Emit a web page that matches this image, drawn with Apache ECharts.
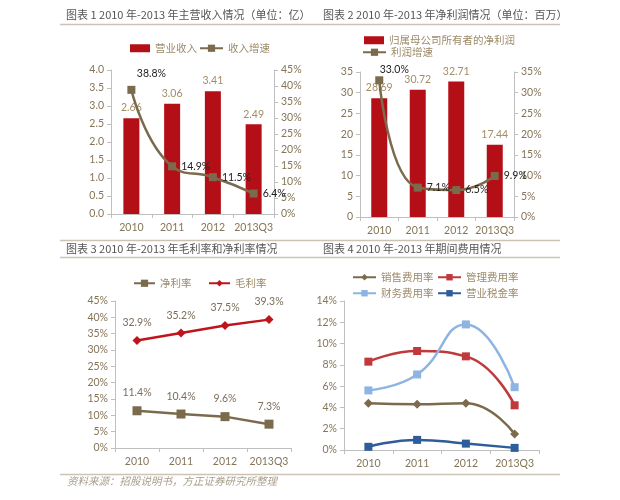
<!DOCTYPE html>
<html><head><meta charset="utf-8">
<script src="https://cdn.jsdelivr.net/npm/echarts@6/dist/echarts.min.js"></script>
<style>html,body{margin:0;padding:0;background:#fff}#c{width:620px;height:500px}</style>
</head><body><div id="c"></div>
<script>
var categories = ['2010', '2011', '2012', '2013Q3'];
// Chart 1
var revenue = [2.66, 3.06, 3.41, 2.49];
var revenueGrowth = [38.8, 14.9, 11.5, 6.4];
// Chart 2
var netProfit = [28.69, 30.72, 32.71, 17.44];
var profitGrowth = [33.0, 7.1, 6.5, 9.9];
// Chart 3
var netMargin = [11.4, 10.4, 9.6, 7.3];
var grossMargin = [32.9, 35.2, 37.5, 39.3];
// Chart 4
var salesExp = [4.4, 4.3, 4.4, 1.5];
var mgmtExp = [8.3, 9.3, 8.8, 4.2];
var finExp = [5.6, 7.1, 11.8, 5.9];
var taxRate = [0.3, 0.95, 0.6, 0.2];

var titles = [
  '图表 1 2010 年-2013 年主营收入情况（单位：亿）',
  '图表 2 2010 年-2013 年净利润情况（单位：百万）',
  '图表 3 2010 年-2013 年毛利率和净利率情况',
  '图表 4 2010 年-2013 年期间费用情况'
];
var sourceText = '资料来源：招股说明书，方正证券研究所整理';

var LBL = '#857558';
var AX = '#BFBFBF';
var BROWN = '#7B6B4C';
var RED = '#B40F17';
var FONT = 'Lato, "Noto Sans CJK SC", sans-serif';
var CJK = '"Noto Sans CJK SC", sans-serif';

function pctFmt(v) { return v + '%'; }
function xAx(g) {
  return {
    type: 'category', gridIndex: g, data: categories,
    axisLine: { lineStyle: { color: AX, width: 1 } },
    axisTick: { show: true, length: 4, lineStyle: { color: AX } },
    axisLabel: { color: LBL, fontSize: 10.5, fontFamily: FONT, margin: 8, interval: 0 }
  };
}
function yAx(g, min, max, interval, fmt, pos) {
  return {
    type: 'value', gridIndex: g, min: min, max: max, interval: interval, position: pos || 'left',
    splitLine: { show: false },
    axisLine: { show: true, lineStyle: { color: AX, width: 1 } },
    axisTick: { show: true, length: 4, lineStyle: { color: AX } },
    axisLabel: { color: LBL, fontSize: 10.5, fontFamily: FONT, margin: 7, formatter: fmt }
  };
}
function lineLbl(pos, offset) {
  var o = { show: true, position: pos, color: '#222', fontSize: 10.5, fontFamily: FONT, distance: 5,
    formatter: function (p) { return p.value.toFixed(1) + '%'; } };
  if (offset) o.offset = offset;
  return o;
}
function withLabels(vals, labels) {
  return vals.map(function (v, i) { return { value: v, label: labels[i] }; });
}

var legendText = { color: '#9C8A6A', fontSize: 10.5, fontFamily: CJK };
function lg(left, top, data, w, h) {
  return { left: left, top: top, padding: 0, itemWidth: w || 22, itemHeight: h || 9, itemGap: 8,
    textStyle: legendText, data: data };
}

var option = {
  animation: false,
  backgroundColor: '#fff',
  grid: [
    { left: 111, right: 346, top: 70, bottom: 286 },
    { left: 360, right: 106, top: 72, bottom: 283 },
    { left: 115, right: 329, top: 301, bottom: 52 },
    { left: 344, right: 81, top: 301, bottom: 50 }
  ],
  xAxis: [xAx(0), xAx(1), xAx(2), xAx(3)],
  yAxis: [
    yAx(0, 0, 4, 0.5, function (v) { return v.toFixed(1); }),
    yAx(0, 0, 45, 5, pctFmt, 'right'),
    yAx(1, 0, 35, 5, null),
    yAx(1, 0, 35, 5, pctFmt, 'right'),
    yAx(2, 0, 45, 5, pctFmt),
    yAx(3, 0, 14, 2, pctFmt)
  ],
  legend: [
    lg(130, 43, [{ name: '营业收入', icon: 'rect' }], 20, 8),
    lg(199, 43, ['收入增速'], 23, 9),
    lg(364, 35, [{ name: '归属母公司所有者的净利润', icon: 'rect' }], 20, 8),
    lg(362, 47, ['利润增速'], 23, 9),
    lg(133, 278, ['净利率'], 21, 9),
    lg(208, 278, ['毛利率'], 21, 8),
    lg(352, 272, ['销售费用率'], 23, 8),
    lg(437, 272, ['管理费用率'], 23, 8),
    lg(352, 288, ['财务费用率'], 23, 8),
    lg(437, 288, ['营业税金率'], 23, 8)
  ],
  series: [
    { name: '营业收入', type: 'bar', xAxisIndex: 0, yAxisIndex: 0, data: revenue, barWidth: 16,
      itemStyle: { color: RED },
      label: { show: true, position: 'top', color: '#A48C66', fontSize: 10.5, fontFamily: FONT, distance: 5,
        formatter: function (p) { return p.value.toFixed(2); } } },
    { name: '收入增速', type: 'line', xAxisIndex: 0, yAxisIndex: 1, smooth: 0.5, symbol: 'rect', symbolSize: 8,
      lineStyle: { color: BROWN, width: 2.5 }, itemStyle: { color: BROWN }, z: 5,
      data: withLabels(revenueGrowth, [lineLbl('top', [20, -2]), lineLbl('right'), lineLbl('right'), lineLbl('right')]) },
    { name: '归属母公司所有者的净利润', type: 'bar', xAxisIndex: 1, yAxisIndex: 2, data: netProfit, barWidth: 16,
      itemStyle: { color: RED },
      label: { show: true, position: 'top', color: '#A48C66', fontSize: 10.5, fontFamily: FONT, distance: 5,
        formatter: function (p) { return p.value.toFixed(2); } } },
    { name: '利润增速', type: 'line', xAxisIndex: 1, yAxisIndex: 3, smooth: 0.5, symbol: 'rect', symbolSize: 8,
      lineStyle: { color: BROWN, width: 2.5 }, itemStyle: { color: BROWN }, z: 5,
      data: withLabels(profitGrowth, [lineLbl('top', [15, 4]), lineLbl('right'), lineLbl('right'), lineLbl('right')]) },
    { name: '净利率', type: 'line', xAxisIndex: 2, yAxisIndex: 4, symbol: 'rect', symbolSize: 9,
      lineStyle: { color: BROWN, width: 2.5 }, itemStyle: { color: BROWN }, data: netMargin,
      label: { show: true, position: 'top', distance: 8, color: '#7A6E5C', fontSize: 10.5, fontFamily: FONT,
        formatter: function (p) { return p.value.toFixed(1) + '%'; } } },
    { name: '毛利率', type: 'line', xAxisIndex: 2, yAxisIndex: 4, symbol: 'diamond', symbolSize: 9,
      lineStyle: { color: '#C0141C', width: 2.5 }, itemStyle: { color: '#C0141C' }, data: grossMargin,
      label: { show: true, position: 'top', distance: 8, color: '#7A6E5C', fontSize: 10.5, fontFamily: FONT,
        formatter: function (p) { return p.value.toFixed(1) + '%'; } } },
    { name: '销售费用率', type: 'line', xAxisIndex: 3, yAxisIndex: 5, smooth: 0.5, symbol: 'diamond', symbolSize: 9,
      lineStyle: { color: BROWN, width: 2.5 }, itemStyle: { color: BROWN }, data: salesExp },
    { name: '管理费用率', type: 'line', xAxisIndex: 3, yAxisIndex: 5, smooth: 0.5, symbol: 'rect', symbolSize: 8,
      lineStyle: { color: '#C0393B', width: 2.5 }, itemStyle: { color: '#C0393B' }, data: mgmtExp },
    { name: '财务费用率', type: 'line', xAxisIndex: 3, yAxisIndex: 5, smooth: 0.5, symbol: 'rect', symbolSize: 8,
      lineStyle: { color: '#8DB4E2', width: 2.5 }, itemStyle: { color: '#8DB4E2' }, data: finExp },
    { name: '营业税金率', type: 'line', xAxisIndex: 3, yAxisIndex: 5, smooth: 0.5, symbol: 'rect', symbolSize: 8,
      lineStyle: { color: '#2F5D9A', width: 2.5 }, itemStyle: { color: '#2F5D9A' }, data: taxRate }
  ],
  graphic: [
    { type: 'text', left: 66, top: 9, style: { text: titles[0], fill: '#555', font: '11px ' + CJK } },
    { type: 'text', left: 323, top: 9, style: { text: titles[1], fill: '#555', font: '11px ' + CJK } },
    { type: 'text', left: 66, top: 243, style: { text: titles[2], fill: '#555', font: '11px ' + CJK } },
    { type: 'text', left: 323, top: 243, style: { text: titles[3], fill: '#555', font: '11px ' + CJK } },
    { type: 'text', left: 67, top: 476, style: { text: sourceText, fill: '#A89E8C', font: 'italic 10.5px ' + CJK } },
    { type: 'line', shape: { x1: 60, y1: 24.5, x2: 560, y2: 24.5 }, style: { stroke: '#CBC3B3', lineWidth: 1.5 } },
    { type: 'line', shape: { x1: 60, y1: 240.5, x2: 560, y2: 240.5 }, style: { stroke: '#CBC3B3', lineWidth: 1.5 } },
    { type: 'line', shape: { x1: 60, y1: 257.5, x2: 560, y2: 257.5 }, style: { stroke: '#CBC3B3', lineWidth: 1.5 } },
    { type: 'line', shape: { x1: 60, y1: 474.5, x2: 560, y2: 474.5 }, style: { stroke: '#CBC3B3', lineWidth: 1.5 } }
  ]
};
var chart = echarts.init(document.getElementById('c'), null, { renderer: 'canvas' });
chart.setOption(option);
</script>
</body></html>
